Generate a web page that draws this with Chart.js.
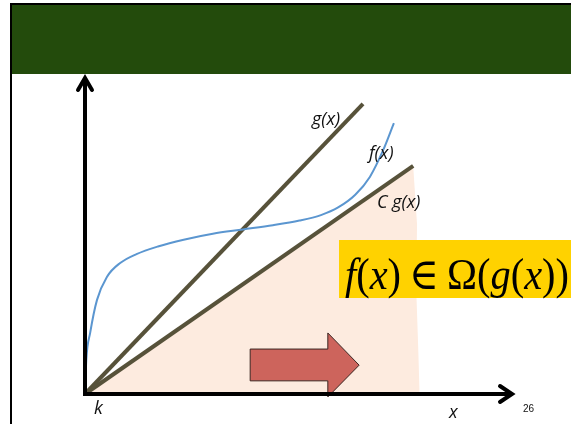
<!DOCTYPE html>
<html>
<head>
<meta charset="utf-8">
<script src="https://cdn.jsdelivr.net/npm/chart.js@4.4.1/dist/chart.umd.min.js"></script>
<style>
  html, body { margin: 0; padding: 0; background: #fff; }
  #wrap { width: 571px; height: 424px; }
</style>
</head>
<body>
<div id="wrap"><canvas id="omegaChart" width="571" height="424"></canvas></div>
<script>
// f(x): sampled points of the curve
const fX = [0, 0.03, 0.12, 0.28, 0.51, 0.82, 1.2, 1.7, 2.3, 2.98, 3.68, 4.38, 5.0, 5.5, 5.9, 6.3, 6.64, 6.95, 7.2];
const fY = [0, 0.8, 1.44, 2.22, 2.76, 3.09, 3.30, 3.48, 3.64, 3.78, 3.88, 3.98, 4.09, 4.22, 4.40, 4.70, 5.12, 5.75, 6.39];

// g(x) and C g(x), straight lines from k
const gX = [0, 6.48];
const gY = [0, 6.84];
const cgX = [0, 7.65];
const cgY = [0, 5.38];

// shaded zone under C g(x), ragged right edge
const zoneX = [0, 7.65, 7.74, 7.72, 7.77, 7.8];
const zoneY = [0, 5.38, 4.0, 2.5, 1.0, -0.05];

// block arrow pointing to the right
const arrowX = [3.85, 5.66, 5.66, 6.39, 5.66, 5.66, 3.85, 3.85];
const arrowY = [1.06, 1.06, 1.44, 0.68, -0.07, 0.31, 0.31, 1.06];

const xMax = 10;
const yMax = 7.5;

function pts(xs, ys) {
    return xs.map((x, i) => ({ x: x, y: ys[i] }));
}

// slide frame and green title band
const slidePlugin = {
    id: 'slide',
    beforeDraw(chart) {
        const ctx = chart.ctx;
        ctx.save();
        ctx.fillStyle = '#ffffff';
        ctx.fillRect(0, 0, chart.width, chart.height);
        ctx.fillStyle = '#234b0c';
        ctx.fillRect(12, 5, chart.width - 12, 69);
        ctx.fillStyle = '#000';
        ctx.fillRect(10, 3, chart.width - 10, 2);
        ctx.fillRect(10, 3, 2, chart.height - 3);
        ctx.restore();
    }
};

// thick axes with open arrowheads and the text labels
const axesPlugin = {
    id: 'axes',
    afterDatasetsDraw(chart) {
        const ctx = chart.ctx;
        const xs = chart.scales.x, ys = chart.scales.y;
        const x0 = xs.getPixelForValue(0), y0 = ys.getPixelForValue(0);
        const xr = xs.getPixelForValue(xMax), yt = ys.getPixelForValue(yMax);
        ctx.save();
        ctx.strokeStyle = '#000';
        ctx.lineWidth = 4;
        ctx.lineCap = 'butt';
        ctx.beginPath();
        ctx.moveTo(x0, y0 + 2);
        ctx.lineTo(x0, yt + 2);
        ctx.moveTo(x0 - 2, y0);
        ctx.lineTo(xr - 2, y0);
        ctx.stroke();

        ctx.lineCap = 'round';
        ctx.lineJoin = 'miter';
        ctx.beginPath();
        ctx.moveTo(x0 - 7, yt + 14);
        ctx.lineTo(x0, yt + 2);
        ctx.lineTo(x0 + 7, yt + 14);
        ctx.moveTo(xr - 14, y0 - 8);
        ctx.lineTo(xr - 2, y0);
        ctx.lineTo(xr - 14, y0 + 8);
        ctx.stroke();

        ctx.fillStyle = '#111';
        ctx.textBaseline = 'alphabetic';
        ctx.font = 'italic 18px "Open Sans", "Noto Sans", sans-serif';
        ctx.fillText('g(x)', 312, 125);
        ctx.fillText('f(x)', 369, 159);
        ctx.fillText('C g(x)', 377, 208);
        ctx.fillText('k', 94, 414);
        ctx.fillText('x', 449, 418);
        ctx.font = '10px "Liberation Sans", sans-serif';
        ctx.fillText('26', 523, 412);
        ctx.restore();
    }
};

// yellow box with f(x) ∈ Ω(g(x))
const formulaPlugin = {
    id: 'formula',
    afterDraw(chart) {
        const ctx = chart.ctx;
        ctx.save();
        ctx.fillStyle = '#ffd200';
        ctx.fillRect(339, 240, chart.width - 339, 58);

        const runs = [
            ['f', true], ['(', false], ['x', true], [')', false],
            ['\u2009\u2208\u2009', false], ['\u03A9', false], ['(', false], ['g', true],
            ['(', false], ['x', true], [')', false], [')', false]
        ];
        const size = 44;
        const fontFor = it => (it ? 'italic ' : '') + size + 'px "Liberation Serif", "DejaVu Serif", serif';
        let total = 0;
        runs.forEach(r => { ctx.font = fontFor(r[1]); total += ctx.measureText(r[0]).width; });
        const left = 345, right = 569;
        const sx = (right - left) / total;
        ctx.translate(left, 289);
        ctx.scale(sx, 1);
        ctx.fillStyle = '#000';
        let x = 0;
        runs.forEach(r => {
            ctx.font = fontFor(r[1]);
            ctx.fillText(r[0], x, 0);
            x += ctx.measureText(r[0]).width;
        });
        ctx.restore();
    }
};

const ctx = document.getElementById('omegaChart').getContext('2d');
new Chart(ctx, {
    type: 'scatter',
    data: {
        datasets: [
            {
                label: 'f(x)',
                data: pts(fX, fY),
                showLine: true,
                borderColor: '#5b96d0',
                borderWidth: 2,
                pointRadius: 0,
                cubicInterpolationMode: 'monotone',
                clip: false,
                order: 1
            },
            {
                label: 'g(x)',
                data: pts(gX, gY),
                showLine: true,
                borderColor: '#57523a',
                borderWidth: 4,
                pointRadius: 0,
                clip: false,
                order: 2
            },
            {
                label: 'C g(x)',
                data: pts(cgX, cgY),
                showLine: true,
                borderColor: '#57523a',
                borderWidth: 4,
                pointRadius: 0,
                clip: false,
                order: 3
            },
            {
                label: 'arrow',
                data: pts(arrowX, arrowY),
                showLine: true,
                borderColor: '#3b2622',
                borderWidth: 1,
                backgroundColor: '#cd645c',
                fill: 'shape',
                pointRadius: 0,
                tension: 0,
                clip: false,
                order: 4
            },
            {
                label: 'zone',
                data: pts(zoneX, zoneY),
                showLine: true,
                borderWidth: 0,
                borderColor: 'rgba(0,0,0,0)',
                backgroundColor: '#fdebdf',
                fill: 'shape',
                pointRadius: 0,
                tension: 0,
                clip: false,
                order: 5
            }
        ]
    },
    options: {
        responsive: false,
        animation: false,
        devicePixelRatio: 1,
        layout: { padding: { left: 85, right: 57, top: 76, bottom: 30 } },
        scales: {
            x: { type: 'linear', min: 0, max: xMax, display: false },
            y: { type: 'linear', min: 0, max: yMax, display: false }
        },
        plugins: {
            legend: { display: false },
            tooltip: { enabled: false }
        }
    },
    plugins: [slidePlugin, axesPlugin, formulaPlugin]
});
</script>
</body>
</html>
